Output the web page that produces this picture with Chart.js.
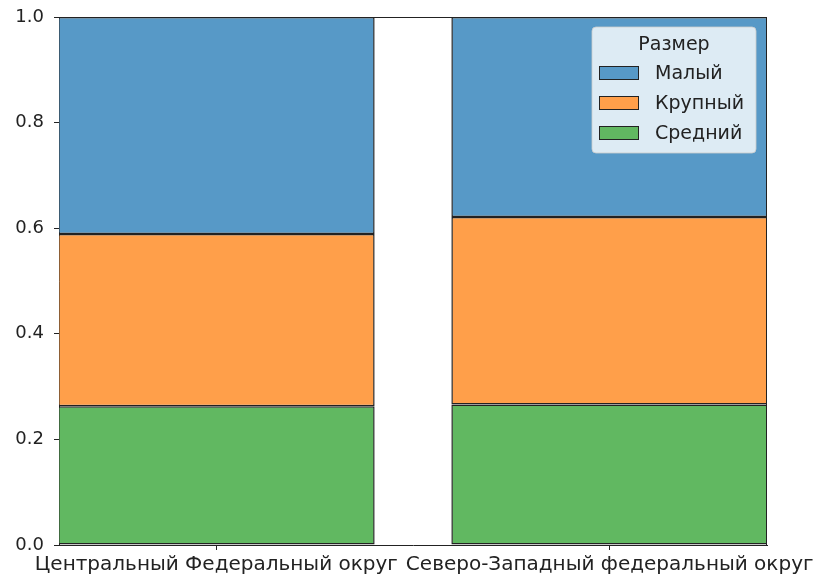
<!DOCTYPE html>
<html>
<head>
<meta charset="utf-8">
<script src="https://cdn.jsdelivr.net/npm/chart.js@4/dist/chart.umd.min.js"></script>
<style>
  html, body { margin: 0; padding: 0; background: #fff; }
</style>
</head>
<body>
<canvas id="c" width="814" height="582"></canvas>
<script>
// data (shares per district)
const categories = ['Центральный Федеральный округ', 'Северо-Западный федеральный округ'];
const sredniy = [0.263, 0.266];   // Средний (bottom)
const krupnyy = [0.326, 0.355];   // Крупный (middle)
const malyy   = [0.411, 0.379];   // Малый (top)
const yTicks  = [0, 0.2, 0.4, 0.6, 0.8, 1.0];
const legendTitle = 'Размер';

const C = { blue: '#5799c7', orange: '#ff9f4a', green: '#61b861' };

Chart.defaults.font.family = "'DejaVu Sans', sans-serif";
Chart.defaults.font.size = 18;
Chart.defaults.color = '#222';

const pts = vals => vals.map((v, i) => ({ x: i, y: v }));

// top + right spines
const frame = {
    id: 'frame',
    afterDatasetsDraw(chart) {
        const { ctx, chartArea: a } = chart;
        ctx.save();
        ctx.strokeStyle = '#222';
        ctx.lineWidth = 1;
        ctx.beginPath();
        ctx.moveTo(a.left, a.top + 0.5);
        ctx.lineTo(a.right, a.top + 0.5);
        ctx.moveTo(a.right - 0.5, a.top);
        ctx.lineTo(a.right - 0.5, a.bottom);
        ctx.stroke();
        ctx.restore();
    }
};

// matplotlib-like legend inside the axes, top right
const boxLegend = {
    id: 'boxLegend',
    afterDraw(chart) {
        const { ctx, chartArea: a } = chart;
        const w = 164, h = 126;
        const x = a.right - 11 - w, y = a.top + 10;
        ctx.save();
        ctx.beginPath();
        ctx.roundRect(x, y, w, h, 4);
        ctx.fillStyle = 'rgba(255,255,255,0.8)';
        ctx.fill();
        ctx.strokeStyle = 'rgba(204,204,204,0.8)';
        ctx.lineWidth = 1;
        ctx.stroke();

        ctx.font = "19px 'DejaVu Sans', sans-serif";
        ctx.fillStyle = '#222';
        ctx.textBaseline = 'middle';
        ctx.textAlign = 'center';
        ctx.fillText(legendTitle, x + w / 2, y + 18);

        ctx.textAlign = 'left';
        const ds = chart.data.datasets.slice().reverse();
        ds.forEach((d, i) => {
            const ry = y + 46 + i * 30;
            ctx.fillStyle = d.backgroundColor;
            ctx.fillRect(x + 7, ry - 7, 40, 14);
            ctx.strokeStyle = '#222';
            ctx.strokeRect(x + 7.5, ry - 6.5, 39, 13);
            ctx.fillStyle = '#222';
            ctx.fillText(d.label, x + 63, ry + 1);
        });
        ctx.restore();
    }
};

new Chart(document.getElementById('c'), {
    type: 'bar',
    data: {
        datasets: [
            { label: 'Средний', data: pts(sredniy), backgroundColor: C.green },
            { label: 'Крупный', data: pts(krupnyy), backgroundColor: C.orange },
            { label: 'Малый',   data: pts(malyy),   backgroundColor: C.blue }
        ].map(d => Object.assign(d, {
            borderColor: '#222', borderWidth: 1.5, borderSkipped: false, inflateAmount: 0,
            categoryPercentage: 0.805, barPercentage: 1.0
        }))
    },
    options: {
        responsive: false,
        animation: false,
        layout: { padding: { top: 17, right: 47, left: 0, bottom: 0 } },
        plugins: { legend: { display: false }, tooltip: { enabled: false } },
        scales: {
            x: {
                type: 'linear', stacked: true, min: -0.4, max: 1.4, offset: false,
                afterBuildTicks: s => { s.ticks = categories.map((_, i) => ({ value: i })); },
                afterFit: s => { s.height = 37; s.paddingLeft = 0; s.paddingRight = 0; },
                grid: { drawOnChartArea: false, offset: false, tickLength: 5, tickColor: '#222' },
                border: { color: '#222', width: 1 },
                ticks: { callback: v => categories[v], maxRotation: 0, autoSkip: false, padding: 3, font: { size: 20 } }
            },
            y: {
                stacked: true, min: 0, max: 1,
                afterBuildTicks: s => { s.ticks = yTicks.map(v => ({ value: v })); },
                afterFit: s => { s.width = 59; s.paddingTop = 0; s.paddingBottom = 0; },
                grid: { drawOnChartArea: false, tickLength: 5, tickColor: '#222' },
                border: { color: '#222', width: 1 },
                ticks: { callback: v => v.toFixed(1), padding: 10 }
            }
        }
    },
    plugins: [frame, boxLegend]
});
</script>
</body>
</html>
